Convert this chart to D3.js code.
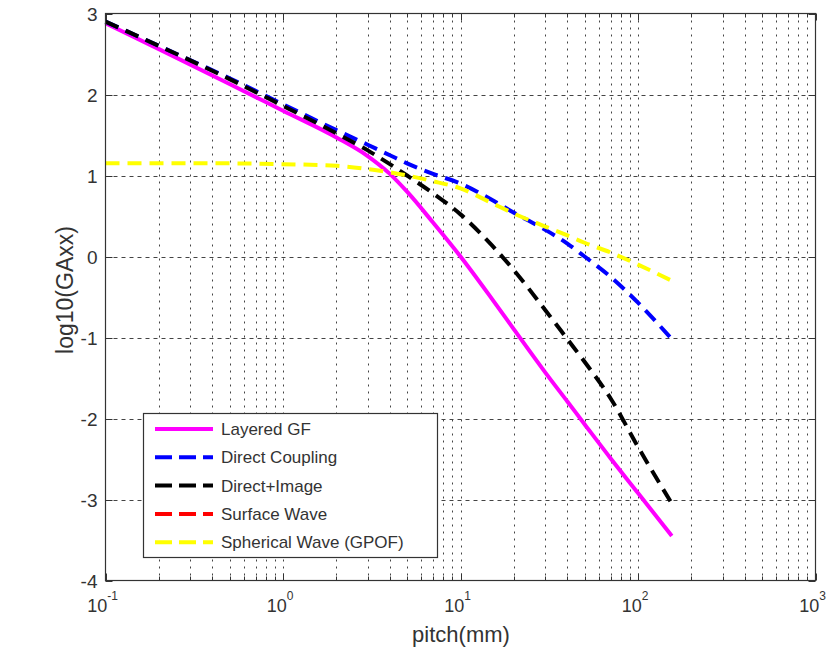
<!DOCTYPE html>
<html><head><meta charset="utf-8">
<script src="https://cdn.jsdelivr.net/npm/d3@7"></script>
<style>body{margin:0;background:#fff}svg{display:block}text{font-family:"Liberation Sans",Arial,sans-serif;fill:#333}</style>
</head><body><svg id="c" width="832" height="656"></svg>
<script>
const pitch      = [0.1, 0.2, 0.5, 1, 2, 3, 4, 5, 7, 10, 15, 20, 30, 40, 50, 70, 100, 155];
const layeredGF  = [2.88, 2.56, 2.13, 1.80, 1.47, 1.24, 1.02, 0.80, 0.42, 0.00, -0.52, -0.90, -1.43, -1.79, -2.07, -2.49, -2.92, -3.45];
const directCpl  = [2.90, 2.60, 2.20, 1.88, 1.56, 1.38, 1.25, 1.15, 1.02, 0.90, 0.70, 0.54, 0.33, 0.16, 0.00, -0.25, -0.57, -1.02];
const directImg  = [2.90, 2.60, 2.19, 1.86, 1.52, 1.31, 1.14, 1.00, 0.78, 0.52, 0.14, -0.17, -0.66, -1.02, -1.30, -1.75, -2.35, -3.05];
const surfaceWav = [];
const sphericalW = [1.15, 1.15, 1.15, 1.14, 1.12, 1.08, 1.04, 1.00, 0.93, 0.84, 0.66, 0.53, 0.37, 0.26, 0.17, 0.05, -0.10, -0.30];
const seriesNames = ["Layered GF", "Direct Coupling", "Direct+Image", "Surface Wave", "Spherical Wave (GPOF)"];
const xTickExps = [-1, 0, 1, 2, 3];
const yTicks = [-4, -3, -2, -1, 0, 1, 2, 3];

const seriesVals = [layeredGF, directCpl, directImg, surfaceWav, sphericalW];
const colors = ["#ff00ff", "#0000ff", "#000000", "#ff0000", "#ffff00"];
const dashes = [null, "14,8", "14,8", "14,8", "14,8"];

const svg = d3.select("#c");
svg.append("rect").attr("width",832).attr("height",656).attr("fill","#fff");
const L = 105.5, R = 815.5, T = 13.5, B = 580.5;
const x = d3.scaleLog().domain([0.1, 1000]).range([L, R]);
const y = d3.scaleLinear().domain([-4, 3]).range([B, T]);

const minors = [];
for (let e = -1; e < 3; e++) for (let k = 2; k <= 9; k++) minors.push(k * Math.pow(10, e));
const majors = xTickExps.map(e => Math.pow(10, e));

const grid = svg.append("g");
grid.selectAll("line.v").data(majors.slice(1, -1).concat(minors)).enter().append("line")
  .attr("x1", d => Math.round(x(d)) + 0.5).attr("x2", d => Math.round(x(d)) + 0.5)
  .attr("y1", T).attr("y2", B)
  .attr("stroke", "#444").attr("stroke-width", 1).attr("stroke-dasharray", "2,5");
grid.selectAll("line.h").data(yTicks.slice(1, -1)).enter().append("line")
  .attr("x1", L).attr("x2", R)
  .attr("y1", d => Math.round(y(d)) + 0.5).attr("y2", d => Math.round(y(d)) + 0.5)
  .attr("stroke", "#444").attr("stroke-width", 1).attr("stroke-dasharray", "4,4");

const tk = svg.append("g").attr("stroke", "#333").attr("stroke-width", 1);
majors.forEach(d => {
  const px = Math.round(x(d)) + 0.5;
  tk.append("line").attr("x1", px).attr("x2", px).attr("y1", B).attr("y2", B - 7);
  tk.append("line").attr("x1", px).attr("x2", px).attr("y1", T).attr("y2", T + 7);
});
minors.forEach(d => {
  const px = Math.round(x(d)) + 0.5;
  tk.append("line").attr("x1", px).attr("x2", px).attr("y1", B).attr("y2", B - 4);
  tk.append("line").attr("x1", px).attr("x2", px).attr("y1", T).attr("y2", T + 4);
});
yTicks.forEach(d => {
  const py = Math.round(y(d)) + 0.5;
  tk.append("line").attr("x1", L).attr("x2", L + 7).attr("y1", py).attr("y2", py);
  tk.append("line").attr("x1", R).attr("x2", R - 7).attr("y1", py).attr("y2", py);
});

const line = d3.line().x((d, i) => x(pitch[i])).y(d => y(d)).curve(d3.curveMonotoneX);
seriesVals.forEach((vals, k) => {
  if (!vals.length) return;
  svg.append("path").datum(vals).attr("d", line)
    .attr("fill", "none").attr("stroke", colors[k]).attr("stroke-width", 4)
    .attr("stroke-dasharray", dashes[k]);
});

svg.append("rect").attr("x", L).attr("y", T).attr("width", R - L).attr("height", B - T)
  .attr("fill", "none").attr("stroke", "#333").attr("stroke-width", 1.2);

svg.append("g").selectAll("text").data(yTicks).enter().append("text")
  .attr("x", L - 8).attr("y", d => y(d) + 7).attr("text-anchor", "end")
  .attr("font-size", 19).text(d => d);

const xl = svg.append("g").selectAll("text").data(xTickExps).enter().append("text")
  .attr("x", d => x(Math.pow(10, d)) - 3).attr("y", 612).attr("text-anchor", "middle")
  .attr("font-size", 18);
xl.append("tspan").text("10");
xl.append("tspan").attr("font-size", 12).attr("dy", -12).text(d => d);

svg.append("text").attr("x", 461).attr("y", 642).attr("text-anchor", "middle")
  .attr("font-size", 22).attr("fill", "#222").text("pitch(mm)");
svg.append("text").attr("transform", "translate(73,290) rotate(-90)").attr("text-anchor", "middle")
  .attr("font-size", 23).attr("fill", "#222").text("log10(GAxx)");

const lg = svg.append("g");
lg.append("rect").attr("x", 143.5).attr("y", 413.5).attr("width", 294).attr("height", 144)
  .attr("fill", "#fff").attr("stroke", "#333").attr("stroke-width", 1.2);
seriesNames.forEach((n, k) => {
  const ly = 429 + k * 28.3;
  lg.append("line").attr("x1", 155).attr("x2", 213).attr("y1", ly).attr("y2", ly)
    .attr("stroke", colors[k]).attr("stroke-width", 4)
    .attr("stroke-dasharray", k === 0 ? null : "17,7");
  lg.append("text").attr("x", 221).attr("y", ly + 6).attr("font-size", 17).text(n);
});
</script></body></html>
